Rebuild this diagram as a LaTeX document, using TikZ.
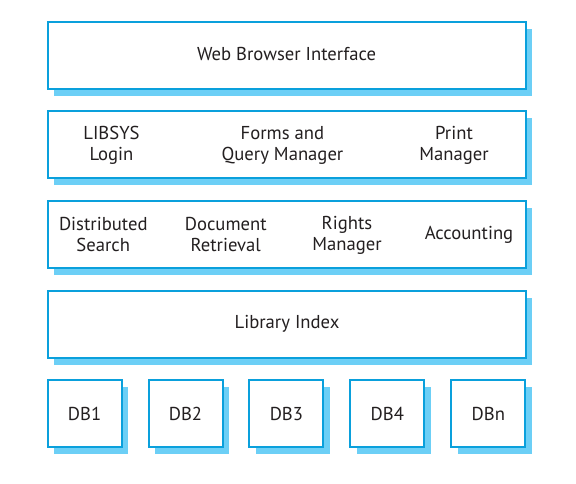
\documentclass[tikz,border=0pt]{standalone}
\usepackage{fontspec}
\setmainfont{PT Sans}
\usetikzlibrary{shadows}
\definecolor{bblue}{HTML}{0AA0DC}
\definecolor{sblue}{HTML}{6CCFF6}
\definecolor{txt}{HTML}{231F20}
\tikzset{
  box/.style={draw=bblue, line width=1.5pt, fill=white, inner sep=0pt,
    drop shadow={shadow xshift=4.9pt, shadow yshift=-4.9pt, fill=sblue, opacity=1}},
  layer/.style={box, minimum width={478*0.75pt}, minimum height={67*0.75pt}},
  dbbox/.style={box, minimum width={74*0.75pt}, minimum height={67*0.75pt}, text=txt},
  lbl/.style={text=txt, align=center, inner sep=0pt},
}
\begin{document}
\begin{tikzpicture}[x=0.75pt, y=-0.75pt, font=\fontsize{14}{15.75}\selectfont]
\useasboundingbox (0,0) rectangle (576,484);
% layers
\node[layer] (web) at (286.5,55.5) {};
\node[layer] (ui) at (286.5,144.5) {};
\node[layer] (svc) at (286.5,235) {};
\node[layer] (idx) at (286.5,324.7) {};
% layer texts
\node[lbl] (webt) at (286.5,54.5) {Web Browser Interface};
\node[lbl] (login) at (111.5,145.5) {LIBSYS\\Login};
\node[lbl] (forms) at (282.5,145.5) {Forms and\\Query Manager};
\node[lbl] (print) at (454,145.5) {Print\\Manager};
\node[lbl] (dsearch) at (103.3,235) {Distributed\\Search};
\node[lbl] (docret) at (225.8,235) {Document\\Retrieval};
\node[lbl] (rights) at (347,235) {Rights\\Manager};
\node[lbl] (acct) at (469,235) {Accounting};
\node[lbl] (idxt) at (287,324) {Library Index};
% databases
\node[dbbox] (db1) at (84.6,413.7) {DB1};
\node[dbbox] (db2) at (185.5,413.7) {DB2};
\node[dbbox] (db3) at (286.4,413.7) {DB3};
\node[dbbox] (db4) at (387.3,413.7) {DB4};
\node[dbbox] (dbn) at (488.4,413.7) {DBn};
\end{tikzpicture}
\end{document}
